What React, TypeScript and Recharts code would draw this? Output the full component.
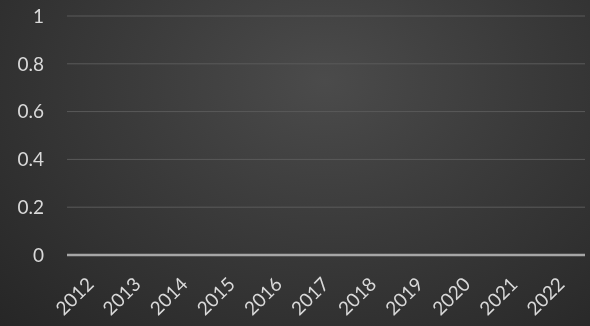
import { Bar, BarChart, CartesianGrid, XAxis, YAxis } from 'recharts';

const years = ['2012', '2013', '2014', '2015', '2016', '2017', '2018', '2019', '2020', '2021', '2022'];
const values = [0, 0, 0, 0, 0, 0, 0, 0, 0, 0, 0];
const yTicks = [0, 0.2, 0.4, 0.6, 0.8, 1];

const data = years.map((year, i) => ({ year, value: values[i] }));

const FONT = 'Lato, "Open Sans", sans-serif';

function YearTick({ x, y, payload }: any) {
  return (
    <text
      x={x + 1}
      y={y + 19}
      transform={`rotate(-45, ${x + 1}, ${y + 19})`}
      textAnchor="end"
      dominantBaseline="middle"
      fill="#d9d9d9"
      fontSize={19}
      fontFamily={FONT}
    >
      {payload.value}
    </text>
  );
}

export default function App() {
  return (
    <div
      style={{
        position: 'fixed',
        left: 0,
        top: 0,
        width: 590,
        height: 326,
        background: 'radial-gradient(ellipse at 55% 25%, #4b4b4b 0%, #3a3a3a 45%, #262626 100%)',
      }}
    >
      <BarChart width={590} height={326} data={data} margin={{ top: 16, right: 5, bottom: 5, left: 0 }}>
        <CartesianGrid stroke="#5a5a5a" vertical={false} />
        <XAxis
          dataKey="year"
          interval={0}
          height={66}
          tick={<YearTick />}
          tickLine={false}
          axisLine={{ stroke: '#a6a6a6', strokeWidth: 2.5 }}
        />
        <YAxis
          domain={[0, 1]}
          ticks={yTicks}
          width={67}
          tickLine={false}
          axisLine={false}
          tickMargin={17}
          tick={{ fill: '#d9d9d9', fontSize: 19, fontFamily: FONT }}
        />
        <Bar dataKey="value" fill="#a6a6a6" isAnimationActive={false} />
      </BarChart>
    </div>
  );
}
